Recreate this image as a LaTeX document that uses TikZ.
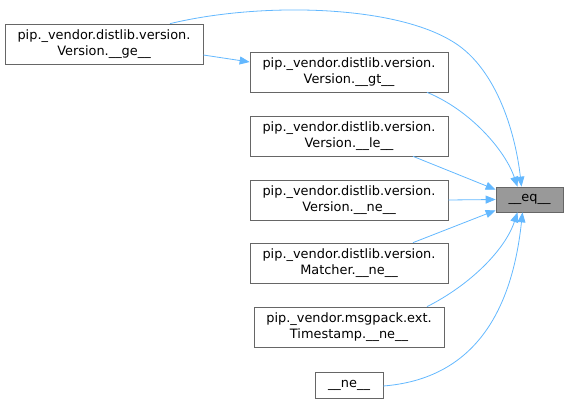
\documentclass[tikz,border=0pt]{standalone}
\usepackage{fontspec}
\setmainfont{DejaVu Sans}
\usetikzlibrary{arrows.meta}
\definecolor{edgeblue}{HTML}{63B8FF}
\definecolor{boxborder}{HTML}{666666}
\definecolor{hlfill}{HTML}{999999}
\tikzset{
  fn/.style={draw=boxborder, fill=white, line width=0.7pt, inner sep=0pt, align=center,
    font=\fontsize{12.9}{15.5}\selectfont, minimum height=40pt},
  hl/.style={fn, fill=hlfill, minimum height=25pt},
  call/.style={draw=edgeblue, line width=0.8pt, -{Triangle[length=10pt,width=8pt]}}
}
\begin{document}
\begin{tikzpicture}[x=1pt,y=-1pt]
\useasboundingbox (0,0) rectangle (568,403);
\node[fn, minimum width=198pt] (ge) at (104,44) {pip.\_vendor.distlib.version.\\Version.\_\_ge\_\_};
\node[fn, minimum width=198pt] (gt) at (349,72) {pip.\_vendor.distlib.version.\\Version.\_\_gt\_\_};
\node[fn, minimum width=198pt] (le) at (349,136) {pip.\_vendor.distlib.version.\\Version.\_\_le\_\_};
\node[fn, minimum width=198pt] (vne) at (349,200) {pip.\_vendor.distlib.version.\\Version.\_\_ne\_\_};
\node[fn, minimum width=198pt] (mne) at (349,263) {pip.\_vendor.distlib.version.\\Matcher.\_\_ne\_\_};
\node[fn, minimum width=190pt] (tne) at (349,327) {pip.\_vendor.msgpack.ext.\\Timestamp.\_\_ne\_\_};
\node[fn, minimum width=68pt, minimum height=26pt] (ne) at (349,385) {\_\_ne\_\_};
\node[hl, minimum width=67pt] (eq) at (529.5,199.5) {\_\_eq\_\_};

\coordinate (c1) at (450,40);
\draw[call] ([xshift=66pt]ge.north) .. controls (260,2) and (390,5) .. (c1)
  .. controls (495,65) and (515,130) .. ([xshift=-8pt]eq.north);
\draw[call] ([yshift=-11pt]ge.east) -- ([yshift=10pt]gt.west);
\draw[call] ([xshift=78pt]gt.south) .. controls (470,110) and (505,150) .. ([xshift=-12pt]eq.north);
\draw[call] ([xshift=64pt]le.south) -- ([yshift=-3pt]eq.north west);
\draw[call] (vne.east) -- (eq.west);
\draw[call] ([xshift=64pt]mne.north) -- ([yshift=2pt]eq.south west);
\draw[call] ([xshift=78pt]tne.north) .. controls (470,285) and (505,250) .. ([xshift=-12pt]eq.south);
\draw[call] ([yshift=-1pt]ne.east) .. controls (460,380) and (510,330) .. ([xshift=-7pt]eq.south);
\end{tikzpicture}
\end{document}
